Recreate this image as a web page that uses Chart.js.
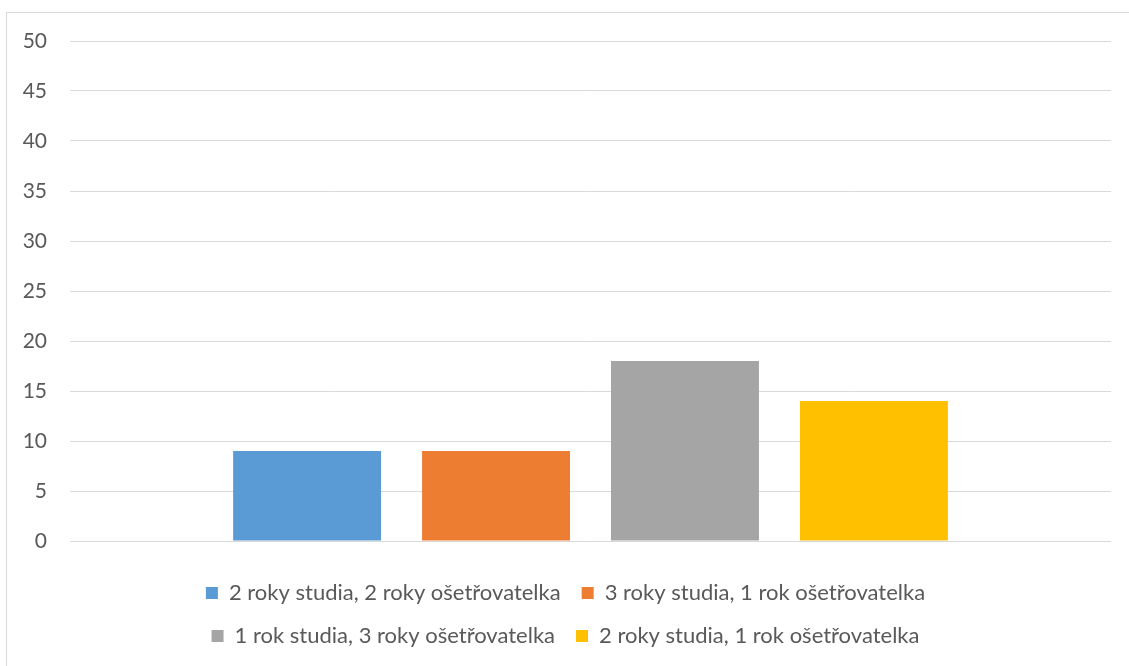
<!DOCTYPE html>
<html>
<head>
<meta charset="utf-8">
<script src="https://cdn.jsdelivr.net/npm/chart.js@4/dist/chart.umd.min.js"></script>
<style>
  html, body { margin: 0; padding: 0; background: #ffffff; overflow: hidden; width: 1129px; height: 666px; }
  #frame { position: absolute; left: 6px; top: 12px; width: 1141px; height: 660px; border: 1px solid #d9d9d9; background: #fff; }
  #wrap { position: absolute; left: 0; top: 0; width: 1141px; height: 650px; }
</style>
</head>
<body>
<div id="frame"><div id="wrap"><canvas id="c"></canvas></div></div>
<script>
const categories = [''];
const seriesNames = [
  '2 roky studia, 2 roky ošetřovatelka',
  '3 roky studia, 1 rok ošetřovatelka',
  '1 rok studia, 3 roky ošetřovatelka',
  '2 roky studia, 1 rok ošetřovatelka'
];
const seriesValues = [9, 9, 18, 14];
const seriesColors = ['#5B9BD5', '#ED7D31', '#A5A5A5', '#FFC000'];
const yTicks = [0, 5, 10, 15, 20, 25, 30, 35, 40, 45, 50];

const FONT = 'Lato, "Open Sans", sans-serif';

new Chart(document.getElementById('c'), {
  type: 'bar',
  data: {
    labels: categories,
    datasets: seriesNames.map((name, i) => ({
      label: name,
      data: [seriesValues[i]],
      backgroundColor: seriesColors[i],
      borderWidth: 0,
      categoryPercentage: 0.726,
      barPercentage: 0.783
    }))
  },
  options: {
    responsive: true,
    maintainAspectRatio: false,
    animation: false,
    layout: { padding: { top: 28, left: 13, right: 37, bottom: 6 } },
    plugins: {
      tooltip: { enabled: false },
      legend: {
        position: 'bottom',
        labels: {
          boxWidth: 12,
          boxHeight: 12,
          padding: 21,
          color: '#595959',
          font: { family: FONT, size: 22 }
        }
      }
    },
    scales: {
      x: {
        display: true,
        border: { display: false },
        grid: { display: true, color: 'transparent', drawOnChartArea: false, drawTicks: true, tickLength: 20 },
        ticks: { display: false }
      },
      y: {
        min: yTicks[0],
        max: yTicks[yTicks.length - 1],
        afterFit: (scale) => { scale.width = 50; },
        afterBuildTicks: (scale) => { scale.ticks = yTicks.map(v => ({ value: v })); },
        border: { display: false },
        grid: { color: '#d9d9d9', lineWidth: 1, drawTicks: true, tickLength: 20, tickColor: 'transparent' },
        ticks: {
          stepSize: 5,
          padding: 3,
          color: '#595959',
          font: { family: FONT, size: 21 }
        }
      }
    }
  }
});
</script>
</body>
</html>
